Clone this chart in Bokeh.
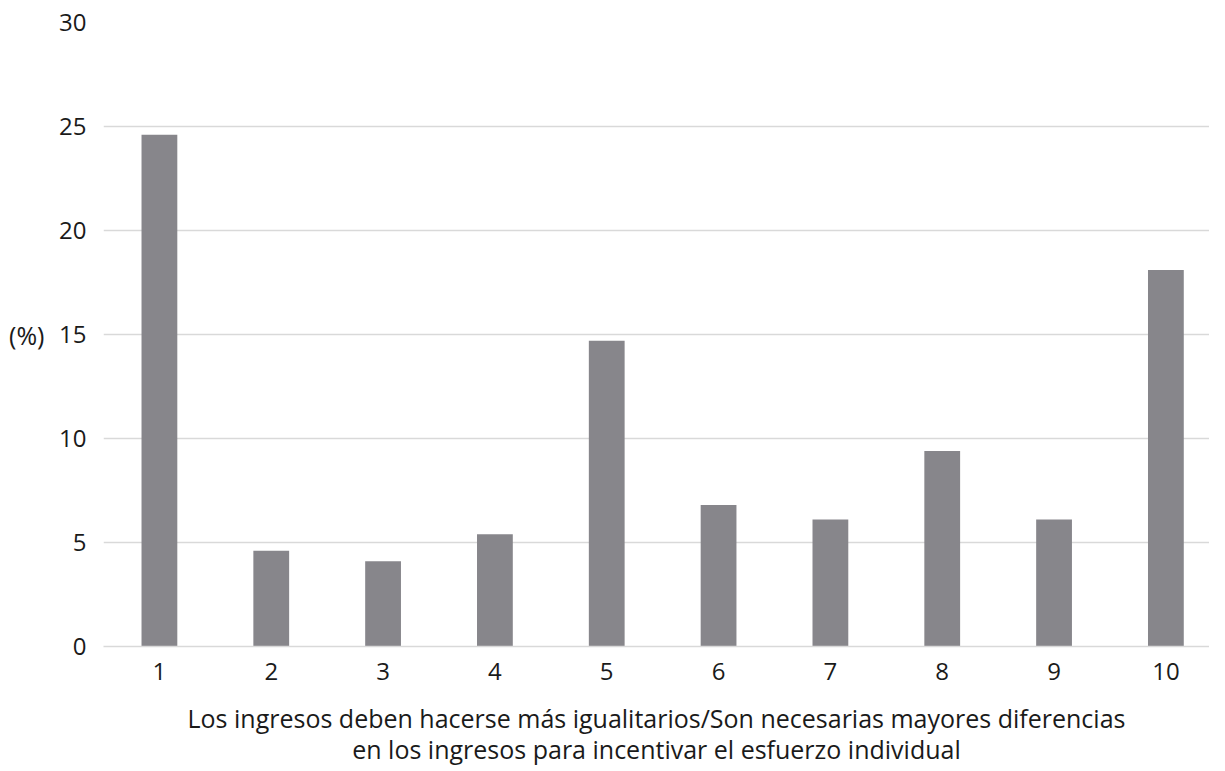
from bokeh.plotting import figure
from bokeh.models import ColumnDataSource, FixedTicker, LinearAxis, Range1d
from bokeh.embed import file_html
from bokeh.resources import INLINE

categories = ["1", "2", "3", "4", "5", "6", "7", "8", "9", "10"]
values = [24.6, 4.6, 4.1, 5.4, 14.7, 6.8, 6.1, 9.4, 6.1, 18.1]
y_ticks = [0, 5, 10, 15, 20, 25, 30]
x_label = "Los ingresos deben hacerse más igualitarios/Son necesarias mayores diferencias\nen los ingresos para incentivar el esfuerzo individual"
y_label = "(%)"
y_label_at = 15

FONT = "Open Sans"
TXT = "#1a1a1a"

xpos = list(range(1, len(categories) + 1))
src = ColumnDataSource(dict(x=xpos, val=values))

p = figure(width=1209, height=769, x_range=Range1d(0.5, 10.39),
           y_range=Range1d(0, 30), output_backend="svg", toolbar_location=None,
           min_border_left=103, min_border_right=0, min_border_top=22, min_border_bottom=0)

p.vbar(x="x", top="val", width=0.32, source=src, fill_color="#87868b", line_color=None)

p.outline_line_color = None
p.background_fill_color = "white"

p.yaxis.ticker = FixedTicker(ticks=y_ticks)
p.yaxis.axis_line_color = None
p.yaxis.major_tick_line_color = None
p.yaxis.minor_tick_line_color = None
p.yaxis.major_label_standoff = 11
p.yaxis.major_label_text_font = FONT
p.yaxis.major_label_text_font_size = "24px"
p.yaxis.major_label_text_color = TXT

# secondary left axis carrying the horizontal "(%)" label
ax2 = LinearAxis(ticker=FixedTicker(ticks=[y_label_at]),
                 major_label_overrides={y_label_at: y_label},
                 axis_line_color=None, major_tick_line_color=None, minor_tick_line_color=None,
                 major_label_standoff=6, major_label_text_font=FONT,
                 major_label_text_font_size="25px", major_label_text_color=TXT)
p.add_layout(ax2, "left")

p.ygrid.grid_line_color = "#d9d9d9"
p.ygrid.grid_line_width = 1.5
p.xgrid.grid_line_color = None

p.xaxis.ticker = FixedTicker(ticks=xpos)
p.xaxis.major_label_overrides = {x: c for x, c in zip(xpos, categories)}
p.xaxis.axis_line_color = "#d9d9d9"
p.xaxis.axis_line_width = 1.5
p.xaxis.major_tick_line_color = None
p.xaxis.minor_tick_line_color = None
p.xaxis.major_label_standoff = 10
p.xaxis.major_label_text_font = FONT
p.xaxis.major_label_text_font_size = "24px"
p.xaxis.major_label_text_color = TXT
p.xaxis.axis_label = x_label
p.xaxis.axis_label_standoff = 18
p.xaxis.axis_label_text_font = FONT
p.xaxis.axis_label_text_font_size = "25px"
p.xaxis.axis_label_text_font_style = "normal"
p.xaxis.axis_label_text_color = TXT
p.xaxis.axis_label_text_line_height = 0.94

open("out.html", "w").write(file_html(p, INLINE))
